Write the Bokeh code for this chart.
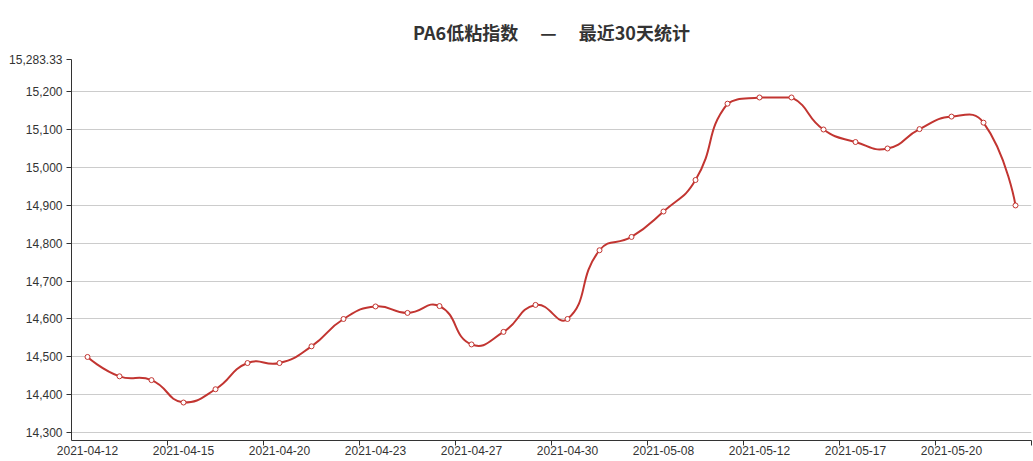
import math
from bokeh.plotting import figure
from bokeh.models import Range1d, FixedTicker, NumeralTickFormatter, ColumnDataSource
from bokeh.embed import file_html
from bokeh.resources import INLINE

# ---- data ----
dates = [
    "2021-04-12", "2021-04-13", "2021-04-14", "2021-04-15", "2021-04-16",
    "2021-04-19", "2021-04-20", "2021-04-21", "2021-04-22", "2021-04-23",
    "2021-04-25", "2021-04-26", "2021-04-27", "2021-04-28", "2021-04-29",
    "2021-04-30", "2021-05-06", "2021-05-07", "2021-05-08", "2021-05-10",
    "2021-05-11", "2021-05-12", "2021-05-13", "2021-05-14", "2021-05-17",
    "2021-05-18", "2021-05-19", "2021-05-20", "2021-05-21", "2021-05-24",
]
values = [
    14500, 14449, 14439, 14380, 14415,
    14484, 14484, 14528, 14600, 14633,
    14616, 14634, 14533, 14566, 14637,
    14600, 14781, 14816, 14883, 14966,
    15167, 15183.33, 15183.33, 15099, 15066,
    15049, 15100, 15133, 15117, 14899,
]
y_ticks = [14300, 14400, 14500, 14600, 14700, 14800, 14900, 15000, 15100, 15200, 15283.33]
y_min, y_max = 14280, 15283.33
title_text = "PA6低粘指数\u2003\u00a0—\u2003\u00a0最近30天统计"

LINE = "#c23531"
xs = list(range(len(dates)))


def smooth_segments(xv, yv, smooth=0.5, kx=32.0, ky=0.38):
    """ECharts-style smoothed polyline -> list of cubic bezier segments (data coords)."""
    P = [(x * kx, y * ky) for x, y in zip(xv, yv)]
    mnx = min(p[0] for p in P); mxx = max(p[0] for p in P)
    mny = min(p[1] for p in P); mxy = max(p[1] for p in P)

    def clamp(c):
        return (min(max(c[0], mnx), mxx), min(max(c[1], mny), mxy))

    n = len(P)
    segs = []
    cp0 = P[0]
    for k in range(1, n):
        p = P[k]
        prev = P[k - 1]
        if k == n - 1:
            ncp0 = p
            ratio = 0.5
            v = (0.0, 0.0)
        else:
            nxt = P[k + 1]
            v = (nxt[0] - prev[0], nxt[1] - prev[1])
            l0 = math.dist(p, prev)
            l1 = math.dist(p, nxt)
            ratio = l1 / (l0 + l1) if (l0 + l1) else 0.5
            ncp0 = (p[0] - smooth * (1 - ratio) * v[0], p[1] - smooth * (1 - ratio) * v[1])
        c0 = clamp(cp0)
        c1 = clamp(ncp0)
        segs.append((prev, c0, c1, p))
        cp0 = (p[0] + smooth * ratio * v[0], p[1] + smooth * ratio * v[1])
    out = dict(x0=[], y0=[], x1=[], y1=[], cx0=[], cy0=[], cx1=[], cy1=[])
    for a, c0, c1, b in segs:
        out["x0"].append(a[0] / kx); out["y0"].append(a[1] / ky)
        out["x1"].append(b[0] / kx); out["y1"].append(b[1] / ky)
        out["cx0"].append(c0[0] / kx); out["cy0"].append(c0[1] / ky)
        out["cx1"].append(c1[0] / kx); out["cy1"].append(c1[1] / ky)
    return out


p = figure(
    width=1033, height=461,
    output_backend="svg", toolbar_location=None,
    x_range=Range1d(-0.5, len(dates) - 0.5),
    y_range=Range1d(y_min, y_max),
    min_border_left=71, min_border_right=2, min_border_top=59, min_border_bottom=21,
)
p.outline_line_color = None
p.background_fill_color = "white"
p.border_fill_color = "white"

p.title.text = title_text
p.title.align = "center"
p.title.offset = 8
p.title.text_font = "Noto Sans CJK SC"
p.title.text_font_size = "18px"
p.title.text_font_style = "bold"
p.title.text_color = "#333333"
p.title.standoff = 30

# grids
p.xgrid.visible = False
p.ygrid.ticker = FixedTicker(ticks=y_ticks)
p.ygrid.grid_line_color = "#cccccc"
p.ygrid.grid_line_width = 1

# y axis
p.yaxis.ticker = FixedTicker(ticks=y_ticks)
p.yaxis.formatter = NumeralTickFormatter(format="0,0.[00]")
p.yaxis.axis_line_color = "#333333"
p.yaxis.major_tick_line_color = "#333333"
p.yaxis.major_tick_out = 5
p.yaxis.major_tick_in = 0
p.yaxis.minor_tick_line_color = None
p.yaxis.major_label_standoff = 4
p.yaxis.major_label_text_font = "Liberation Sans"
p.yaxis.major_label_text_font_size = "12px"
p.yaxis.major_label_text_color = "#333333"

# x axis
label_idx = list(range(0, len(dates), 3))
xaxis = p.below[0]
xaxis.ticker = FixedTicker(ticks=label_idx, minor_ticks=[i + 1.5 for i in range(1, len(dates), 3)])
xaxis.major_label_overrides = {i: dates[i] for i in label_idx}
xaxis.axis_line_color = "#333333"
xaxis.major_tick_out = 0
xaxis.major_tick_in = 0
xaxis.minor_tick_out = 5
xaxis.minor_tick_in = 0
xaxis.minor_tick_line_color = "#333333"
xaxis.major_label_standoff = 0
xaxis.major_label_text_font = "Liberation Sans"
xaxis.major_label_text_font_size = "12px"
xaxis.major_label_text_color = "#333333"

# smoothed line
segs = smooth_segments(xs, values)
p.bezier(source=ColumnDataSource(segs), x0="x0", y0="y0", x1="x1", y1="y1",
         cx0="cx0", cy0="cy0", cx1="cx1", cy1="cy1",
         line_color=LINE, line_width=2, line_cap="round")

# markers
p.scatter(xs, values, marker="circle", size=5, fill_color="white",
          line_color=LINE, line_width=1)

open("out.html", "w").write(file_html(p, INLINE))
